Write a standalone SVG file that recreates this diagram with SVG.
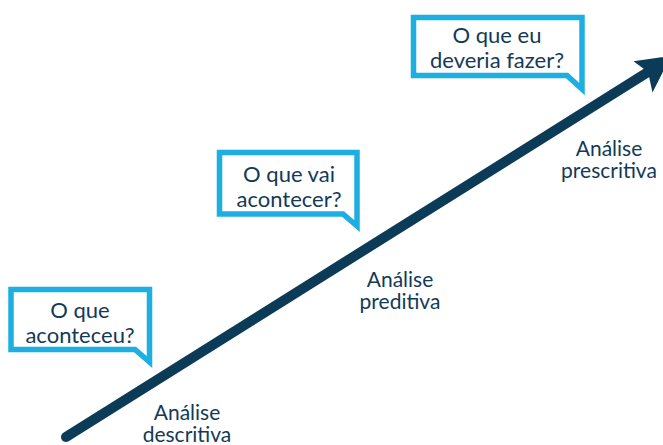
<svg xmlns="http://www.w3.org/2000/svg" width="663" height="445" viewBox="0 0 663 445">
<style>
.bubble{fill:#ffffff;stroke:#1daee2;stroke-width:5.5;stroke-linejoin:miter}
.q{font-family:Lato,"Open Sans",sans-serif;font-size:22px;fill:#133a57;text-anchor:middle}
.lbl{font-family:Lato,"Open Sans",sans-serif;font-size:21px;fill:#133a57;text-anchor:middle}
</style>
<rect width="663" height="445" fill="#ffffff"/>
<g id="connectors">
<line x1="66" y1="437" x2="648" y2="72" stroke="#0c3b58" stroke-width="10" stroke-linecap="round"/>
<polygon points="671,56 633.5,61.2 648,72 652.5,92.5" fill="#0c3b58"/>
</g>
<g id="bubble-descritiva">
<path class="bubble" d="M11,289.5 H149.5 V362 L135,349.5 H11 Z"/>
<text class="q" x="80" y="318">O que</text>
<text class="q" x="80" y="343">aconteceu?</text>
</g>
<g id="bubble-preditiva">
<path class="bubble" d="M219.5,152.5 H357 V226 L343,214 H219.5 Z"/>
<text class="q" x="289" y="182">O que vai</text>
<text class="q" x="289" y="207">acontecer?</text>
</g>
<g id="bubble-prescritiva">
<path class="bubble" d="M413.5,17.5 H582 V89 L567,75.5 H413.5 Z"/>
<text class="q" x="497" y="43">O que eu</text>
<text class="q" x="497" y="68">deveria fazer?</text>
</g>
<g id="label-descritiva">
<text class="lbl" x="187" y="420">Análise</text>
<text class="lbl" x="187" y="442">descritiva</text>
</g>
<g id="label-preditiva">
<text class="lbl" x="400" y="287">Análise</text>
<text class="lbl" x="400" y="309">preditiva</text>
</g>
<g id="label-prescritiva">
<text class="lbl" x="609" y="156">Análise</text>
<text class="lbl" x="609" y="178">prescritiva</text>
</g>
</svg>
